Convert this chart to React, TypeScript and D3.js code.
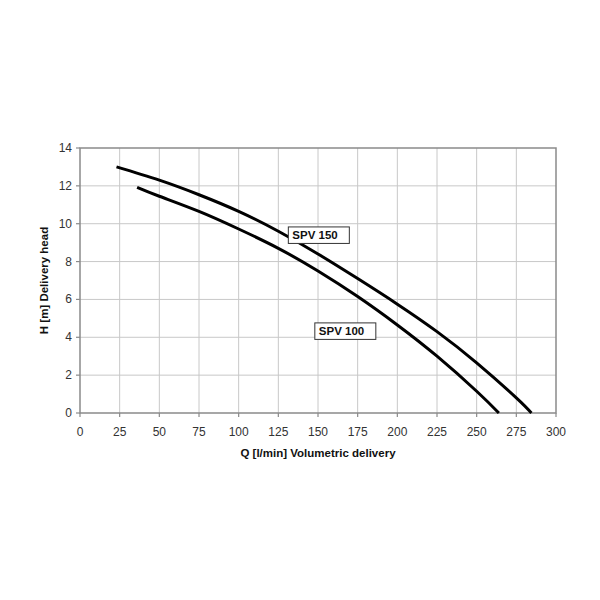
import React from "react";
import * as d3 from "d3";

const xTicks = [0, 25, 50, 75, 100, 125, 150, 175, 200, 225, 250, 275, 300];
const yTicks = [0, 2, 4, 6, 8, 10, 12, 14];

const spv150Q = [23, 50, 75, 100, 125, 150, 175, 200, 225, 250, 275, 284.5];
const spv150H = [13.0, 12.3, 11.53, 10.65, 9.6, 8.4, 7.1, 5.75, 4.3, 2.65, 0.8, 0];

const spv100Q = [36, 50, 75, 100, 125, 150, 175, 200, 225, 250, 264];
const spv100H = [11.92, 11.45, 10.65, 9.72, 8.7, 7.5, 6.15, 4.65, 3.0, 1.15, 0];

const seriesNames = ["SPV 150", "SPV 100"];
const labelQ = [131.3, 148];
const labelH = [9.83, 4.76];

const xTitle = "Q [l/min] Volumetric delivery";
const yTitle = "H [m] Delivery head";

export default function App() {
  const W = 600, H = 600;
  const left = 80, right = 556, top = 148, bottom = 413;
  const x = d3.scaleLinear().domain([0, 300]).range([left, right]);
  const y = d3.scaleLinear().domain([0, 14]).range([bottom, top]);
  const line = d3.line<[number, number]>()
    .x((d) => x(d[0]))
    .y((d) => y(d[1]))
    .curve(d3.curveNatural);
  const series = [
    spv150Q.map((q, i) => [q, spv150H[i]] as [number, number]),
    spv100Q.map((q, i) => [q, spv100H[i]] as [number, number]),
  ];
  const font = "'Liberation Sans', Arial, sans-serif";
  return (
    <svg width={W} height={H} style={{ position: "absolute", left: 0, top: 0, background: "#fff" }} fontFamily={font}>
      <rect x={0} y={0} width={W} height={H} fill="#fff" />
      {xTicks.slice(1, -1).map((t) => (
        <line key={"gx" + t} x1={x(t)} x2={x(t)} y1={top} y2={bottom} stroke="#c8c8c8" strokeWidth={1} />
      ))}
      {yTicks.slice(1, -1).map((t) => (
        <line key={"gy" + t} x1={left} x2={right} y1={y(t)} y2={y(t)} stroke="#c8c8c8" strokeWidth={1} />
      ))}
      <rect x={left} y={top} width={right - left} height={bottom - top} fill="none" stroke="#8a8a8a" strokeWidth={1.5} />
      {xTicks.map((t) => (
        <g key={"tx" + t}>
          <line x1={x(t)} x2={x(t)} y1={bottom} y2={bottom + 4} stroke="#8a8a8a" strokeWidth={1.2} />
          <text x={x(t)} y={436} textAnchor="middle" fontSize={12} fill="#333">{t}</text>
        </g>
      ))}
      {yTicks.map((t) => (
        <g key={"ty" + t}>
          <line x1={left - 4} x2={left} y1={y(t)} y2={y(t)} stroke="#8a8a8a" strokeWidth={1.2} />
          <text x={72} y={y(t) + 4} textAnchor="end" fontSize={12} fill="#333">{t}</text>
        </g>
      ))}
      {series.map((s, i) => (
        <path key={"s" + i} d={line(s) || ""} fill="none" stroke="#000" strokeWidth={3} />
      ))}
      {seriesNames.map((n, i) => (
        <g key={"l" + i}>
          <rect x={x(labelQ[i])} y={y(labelH[i])} width={61} height={16.5} fill="#fff" stroke="#333" strokeWidth={1} />
          <text x={x(labelQ[i]) + 4} y={y(labelH[i]) + 12.5} fontSize={11.5} fontWeight="bold" fill="#111">{n}</text>
        </g>
      ))}
      <text x={(left + right) / 2} y={457} textAnchor="middle" fontSize={11.5} fontWeight="bold" fill="#111">{xTitle}</text>
      <text transform={`translate(48, ${(top + bottom) / 2}) rotate(-90)`} textAnchor="middle" fontSize={11.5} fontWeight="bold" fill="#111">{yTitle}</text>
    </svg>
  );
}
